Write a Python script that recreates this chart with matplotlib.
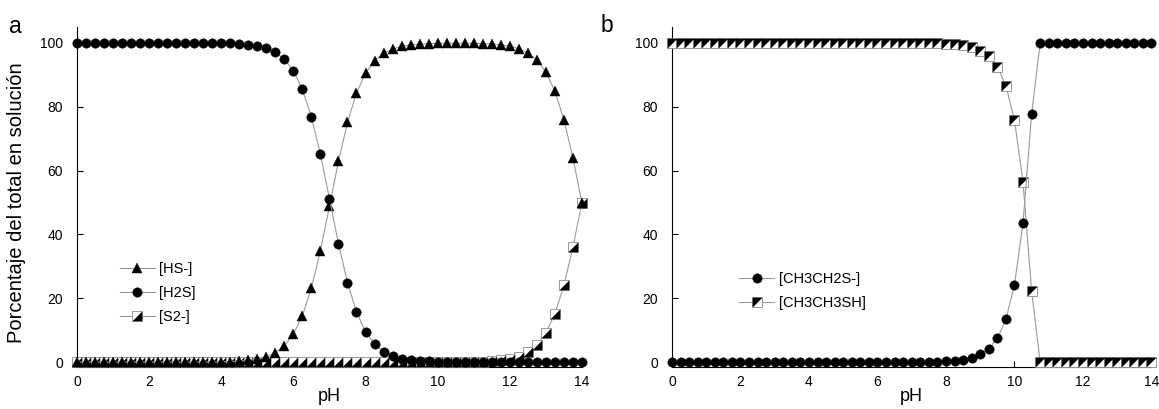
import matplotlib
matplotlib.use("Agg")
import matplotlib.pyplot as plt
from matplotlib.path import Path
from matplotlib.legend_handler import HandlerTuple

plt.rcParams['font.family'] = ['Liberation Sans', 'DejaVu Sans']

# ---------------- data ----------------
ph = [i * 0.25 for i in range(57)]  # 0 .. 14 step 0.25

# panel a
hs_a = [0, 0, 0, 0, 0, 0, 0, 0, 0, 0, 0, 0, 0, 0, 0, 0.01,
        0.1, 0.17, 0.3, 0.53, 0.95, 1.67, 2.93, 5.1, 8.72, 14.5, 23.2, 34.9,
        48.8, 62.9, 75.1, 84.3, 90.5, 94.4, 96.8, 98.1, 98.9, 99.4, 99.6, 99.8,
        99.9, 99.9, 99.9, 99.9, 99.9, 99.8, 99.7, 99.4, 99.0, 98.2, 96.9, 94.7,
        90.9, 84.9, 76.0, 64.0, 50.0]
h2s_a = [100, 100, 100, 100, 100, 100, 100, 100, 100, 100, 100, 100, 100, 100, 100, 99.99,
         99.9, 99.83, 99.7, 99.47, 99.05, 98.33, 97.07, 94.9, 91.28, 85.47, 76.8, 65.1,
         51.2, 37.1, 24.9, 15.7, 9.5, 5.6, 3.2, 1.8, 1.0, 0.6, 0.3, 0.2,
         0.1, 0.06, 0.03, 0.02, 0.01, 0, 0, 0, 0, 0, 0, 0,
         0, 0, 0, 0, 0]
s2_a = [0, 0, 0, 0, 0, 0, 0, 0, 0, 0, 0, 0, 0, 0, 0, 0,
        0, 0, 0, 0, 0, 0, 0, 0, 0, 0, 0, 0,
        0, 0, 0, 0, 0, 0, 0, 0, 0, 0, 0, 0,
        0.01, 0.02, 0.03, 0.06, 0.1, 0.18, 0.32, 0.56, 0.99, 1.75, 3.07, 5.32,
        9.09, 15.1, 24.0, 36.0, 50.0]

# panel b
ets_b = [0, 0, 0, 0, 0, 0, 0, 0, 0, 0, 0, 0, 0, 0, 0, 0,
         0, 0, 0, 0, 0, 0, 0, 0, 0, 0, 0, 0,
         0, 0, 0.08, 0.13, 0.24, 0.42, 0.75, 1.3, 2.4, 4.2, 7.4, 13.4,
         24.2, 43.6, 77.7, 100, 100, 100, 100, 100, 100, 100, 100, 100,
         100, 100, 100, 100, 100]
etsh_b = [100, 100, 100, 100, 100, 100, 100, 100, 100, 100, 100, 100, 100, 100, 100, 100,
          100, 100, 100, 100, 100, 100, 100, 100, 100, 100, 100, 100,
          100, 100, 99.92, 99.87, 99.76, 99.58, 99.25, 98.7, 97.6, 95.8, 92.6, 86.6,
          75.8, 56.4, 22.3, 0, 0, 0, 0, 0, 0, 0, 0, 0,
          0, 0, 0, 0, 0]

xticks = [0, 2, 4, 6, 8, 10, 12, 14]
yticks = [0, 20, 40, 60, 80, 100]

# ---------------- style ----------------
LINE = '#9a9a9a'
LW = 0.8
tri_lr = Path([(-1, -1), (1, -1), (1, 1), (-1, -1)])   # black lower-right half
tri_ul = Path([(-1, 1), (1, 1), (-1, -1), (-1, 1)])    # black upper-left half

fig = plt.figure(figsize=(11.59, 4.09), dpi=100)
ax_a = fig.add_axes([0.0664, 0.103, 0.4357, 0.831])
ax_b = fig.add_axes([0.5798, 0.103, 0.4137, 0.831])


def half_square(ax, x, y, tri):
    sq, = ax.plot(x, y, ls='-', color=LINE, lw=LW, marker='s', ms=6.6,
                  mfc='white', mec='#8a8a8a', mew=0.6, clip_on=False, zorder=3)
    tr, = ax.plot(x, y, ls='none', marker=tri, ms=6.6, mfc='black',
                  mec='black', mew=0.2, clip_on=False, zorder=3)
    return (sq, tr)


leg_kw = dict(handler_map={tuple: HandlerTuple(ndivide=1)}, loc='upper left',
              frameon=False, fontsize=10.5, handlelength=2.4, handletextpad=0.3,
              labelspacing=0.7, borderpad=0)

# panel a
h_s2 = half_square(ax_a, ph, s2_a, tri_lr)
h_hs, = ax_a.plot(ph, hs_a, ls='-', color=LINE, lw=LW, marker='^', ms=7.6,
                  mfc='black', mec='black', mew=0.3, clip_on=False, zorder=4)
h_h2s, = ax_a.plot(ph, h2s_a, ls='-', color=LINE, lw=LW, marker='o', ms=6.8,
                   mfc='black', mec='black', mew=0.3, clip_on=False, zorder=5)
ax_a.legend([h_hs, h_h2s, h_s2], ['[HS-]', '[H2S]', '[S2-]'],
            bbox_to_anchor=(0.07, 0.33), **leg_kw)

# panel b
h_sh = half_square(ax_b, ph, etsh_b, tri_ul)
h_et, = ax_b.plot(ph, ets_b, ls='-', color=LINE, lw=LW, marker='o', ms=6.8,
                  mfc='black', mec='black', mew=0.3, clip_on=False, zorder=5)
ax_b.legend([h_et, h_sh], ['[CH3CH2S-]', '[CH3CH3SH]'],
            bbox_to_anchor=(0.125, 0.30), **leg_kw)

for ax in (ax_a, ax_b):
    ax.set_xlim(0, 14)
    ax.set_ylim(-1.5, 105)
    ax.set_xticks(xticks)
    ax.set_yticks(yticks)
    ax.spines['top'].set_visible(False)
    ax.spines['right'].set_visible(False)
    ax.spines['left'].set_linewidth(0.8)
    ax.spines['bottom'].set_linewidth(0.8)
    ax.spines['left'].set_bounds(0, 105)
    ax.tick_params(axis='both', direction='in', length=4, width=0.8,
                   labelsize=10, colors='black')
    ax.tick_params(axis='y', pad=10)
    ax.tick_params(axis='x', pad=6)
    ax.set_xlabel('pH', fontsize=13, labelpad=-1)

fig.text(17 / 1159, 1 - 203 / 409, 'Porcentaje del total en solución', rotation=90,
         ha='center', va='center', fontsize=14.5)
fig.text(9 / 1159, 1 - 33 / 409, 'a', fontsize=16.5, ha='left', va='baseline')
fig.text(601 / 1159, 1 - 32 / 409, 'b', fontsize=16.5, ha='left', va='baseline')

fig.savefig('out.png', dpi=100)
